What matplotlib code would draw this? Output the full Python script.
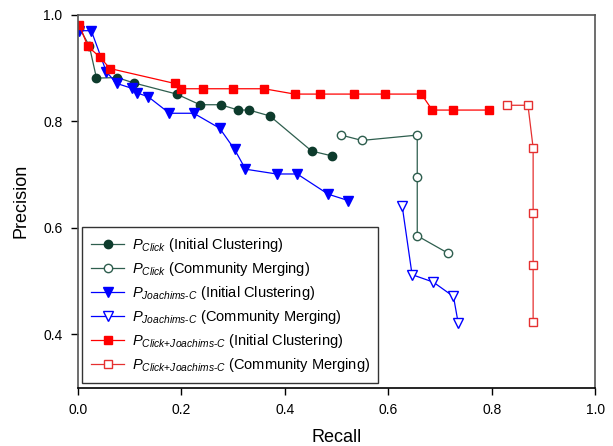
import matplotlib
matplotlib.use("Agg")
import matplotlib.pyplot as plt

plt.rcParams['font.family'] = ['Liberation Sans', 'DejaVu Sans']
plt.rcParams['mathtext.fontset'] = 'custom'
plt.rcParams['mathtext.rm'] = 'Liberation Sans'
plt.rcParams['mathtext.it'] = 'Liberation Sans:italic'
plt.rcParams['mathtext.bf'] = 'Liberation Sans:bold'

# Data (recall, precision)
click_init_r = [0.003, 0.022, 0.036, 0.076, 0.108, 0.191, 0.236, 0.276, 0.310, 0.331, 0.371, 0.452, 0.491]
click_init_p = [0.975, 0.942, 0.881, 0.882, 0.872, 0.851, 0.831, 0.831, 0.821, 0.821, 0.810, 0.744, 0.735]

click_merge_r = [0.509, 0.549, 0.656, 0.656, 0.656, 0.716]
click_merge_p = [0.774, 0.764, 0.774, 0.695, 0.585, 0.552]

joa_init_r = [0.003, 0.026, 0.055, 0.075, 0.104, 0.115, 0.136, 0.177, 0.224, 0.274, 0.303, 0.324, 0.384, 0.424, 0.484, 0.523]
joa_init_p = [0.970, 0.970, 0.893, 0.871, 0.862, 0.853, 0.846, 0.815, 0.815, 0.787, 0.747, 0.710, 0.701, 0.701, 0.663, 0.651]

joa_merge_r = [0.627, 0.646, 0.687, 0.726, 0.735]
joa_merge_p = [0.640, 0.512, 0.498, 0.471, 0.422]

both_init_r = [0.003, 0.019, 0.043, 0.062, 0.187, 0.200, 0.241, 0.299, 0.360, 0.419, 0.469, 0.534, 0.593, 0.664, 0.685, 0.725, 0.794]
both_init_p = [0.981, 0.941, 0.920, 0.899, 0.871, 0.861, 0.861, 0.861, 0.861, 0.851, 0.851, 0.851, 0.851, 0.851, 0.821, 0.821, 0.821]

both_merge_r = [0.830, 0.870, 0.880, 0.880, 0.880, 0.880]
both_merge_p = [0.830, 0.830, 0.750, 0.627, 0.531, 0.423]

labels = [
    r'$P_{Click}$ (Initial Clustering)',
    r'$P_{Click}$ (Community Merging)',
    r'$P_{Joachims\text{-}C}$ (Initial Clustering)',
    r'$P_{Joachims\text{-}C}$ (Community Merging)',
    r'$P_{Click\text{+}Joachims\text{-}C}$ (Initial Clustering)',
    r'$P_{Click\text{+}Joachims\text{-}C}$ (Community Merging)',
]

green_line = '#2e5e4e'
green_mk = '#0d3b2c'
blue = '#0000ff'
red = '#ff0000'
red2 = '#e53030'

fig = plt.figure(figsize=(6.13, 4.46), dpi=100)
ax = fig.add_axes([0.127, 0.131, 0.844, 0.836])

ms = 6
lw = 0.9
ax.plot(click_init_r, click_init_p, '-o', color=green_line, mfc=green_mk, mec=green_mk, ms=ms, lw=lw, label=labels[0])
ax.plot(click_merge_r, click_merge_p, '-o', color=green_line, mfc='white', mec=green_line, ms=ms, lw=lw, label=labels[1])
ax.plot(joa_init_r, joa_init_p, '-v', color=blue, mfc=blue, mec=blue, ms=ms+0.5, lw=lw, label=labels[2])
ax.plot(joa_merge_r, joa_merge_p, '-v', color=blue, mfc='white', mec=blue, ms=ms+0.5, lw=lw, label=labels[3])
ax.plot(both_init_r, both_init_p, '-s', color=red, mfc=red, mec=red, ms=ms, lw=lw, label=labels[4])
ax.plot(both_merge_r, both_merge_p, '-s', color=red2, mfc='white', mec=red2, ms=ms, lw=lw, label=labels[5])

ax.set_xlim(0, 1.0)
ax.set_ylim(0.3, 1.0)
ax.set_xticks([0.0, 0.2, 0.4, 0.6, 0.8, 1.0])
ax.set_xticklabels(['0.0', '0.2', '0.4', '0.6', '0.8', '1.0'])
ax.set_yticks([0.4, 0.6, 0.8, 1.0])
ax.set_yticklabels(['0.4', '0.6', '0.8', '1.0'])
ax.tick_params(direction='out', length=5, width=1, labelsize=10, pad=6)

for s in ['top', 'right', 'left']:
    ax.spines[s].set_color('#555555')
    ax.spines[s].set_linewidth(1.2)
ax.spines['bottom'].set_color('black')
ax.spines['bottom'].set_linewidth(1.2)

ax.set_xlabel('Recall', fontsize=13, labelpad=9)
ax.set_ylabel('Precision', fontsize=13, labelpad=10)

leg = ax.legend(loc='lower left', bbox_to_anchor=(0.008, 0.012), fontsize=10.5,
                frameon=True, fancybox=False, handlelength=2.3, labelspacing=0.42,
                handletextpad=0.5, borderpad=0.6, borderaxespad=0)
leg.get_frame().set_edgecolor('black')
leg.get_frame().set_linewidth(1.0)

fig.savefig('out.png', dpi=100)
